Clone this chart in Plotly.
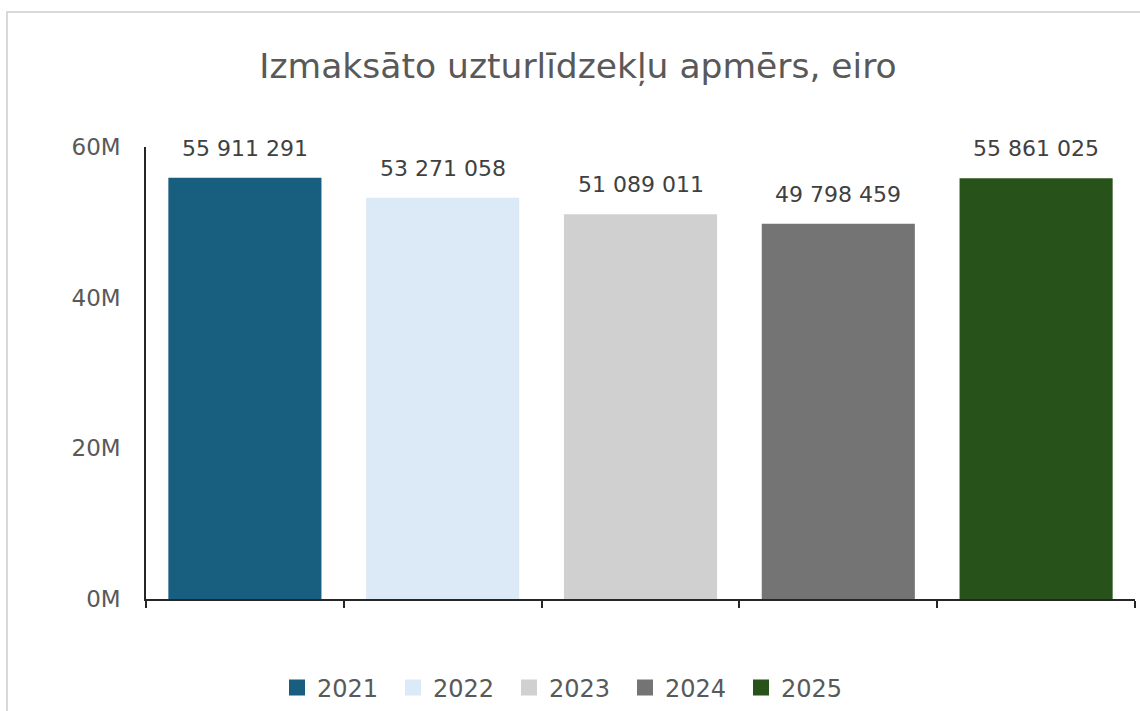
import plotly.graph_objects as go

years = ["2021", "2022", "2023", "2024", "2025"]
values = [55911291, 53271058, 51089011, 49798459, 55861025]
colors = ["#175E7F", "#DCE9F6", "#D0D0D0", "#747474", "#27521A"]
tick_vals = [0, 20e6, 40e6, 60e6]
tick_text = ["0M", "20M", "40M", "60M"]
title_text = "Izmaksāto uzturlīdzekļu apmērs, eiro"

FONT = "DejaVu Sans"

fig = go.Figure()
for y, v, c in zip(years, values, colors):
    fig.add_trace(go.Bar(
        x=[y], y=[v], name=y, legendgroup=y, showlegend=False,
        marker=dict(color=c, line=dict(width=0)),
        hoverinfo="x+y",
    ))
# legend entries (square swatches)
for y, c in zip(years, colors):
    fig.add_trace(go.Scatter(
        x=[None], y=[None], name=y, legendgroup=y, mode="markers",
        marker=dict(symbol="square", size=16, color=c, line=dict(width=0)),
        showlegend=True, hoverinfo="skip",
    ))

for i, v in enumerate(values):
    fig.add_annotation(
        x=i, y=v, xref="x", yref="y",
        text=f"{v:,}".replace(",", " "),
        showarrow=False, yanchor="bottom", yshift=15,
        font=dict(family=FONT, size=22, color="#404040"),
    )

fig.add_shape(type="rect", xref="paper", yref="paper",
              x0=(7 - 146) / 989, x1=1.05, y0=-0.5, y1=1 + (147 - 12) / 452,
              line=dict(color="#D9D9D9", width=2), layer="below")

fig.update_layout(
    width=1140, height=711,
    paper_bgcolor="white", plot_bgcolor="white",
    margin=dict(l=146, r=5, t=147, b=112),
    barmode="overlay", bargap=0.226,
    title=dict(text=title_text, x=0.5 + (578 - 570) / 1140, xref="container", xanchor="center",
               y=1 - 66 / 711, yref="container", yanchor="middle",
               font=dict(family=FONT, size=34.5, color="#595959")),
    showlegend=True,
    legend=dict(orientation="h", xref="container", x=0.5 - (570 - 567) / 1140, xanchor="center",
                yref="container", y=1 - 688 / 711, yanchor="middle",
                font=dict(family=FONT, size=24, color="#595959"),
                itemwidth=30, traceorder="normal", itemsizing="trace",
                entrywidth=71, entrywidthmode="pixels"),
    xaxis=dict(type="category", categoryorder="array", categoryarray=years,
               range=[-0.5, len(years) - 0.5],
               showticklabels=False, showline=True, linecolor="#262626",
               linewidth=1.5, ticks="outside", tickson="boundaries",
               ticklen=7, tickcolor="#262626", tickwidth=1.5,
               showgrid=False, zeroline=False, fixedrange=True),
    yaxis=dict(range=[0, 60e6], tickvals=tick_vals, ticktext=tick_text,
               showline=True, linecolor="#262626", linewidth=1.5,
               ticks="", showgrid=False, zeroline=False,
               ticklabelstandoff=19,
               tickfont=dict(family=FONT, size=23, color="#595959"),
               fixedrange=True),
)

fig.write_html("out.html", config={"displayModeBar": False},
               post_script="document.body.style.margin='0';document.body.style.overflow='hidden';")
